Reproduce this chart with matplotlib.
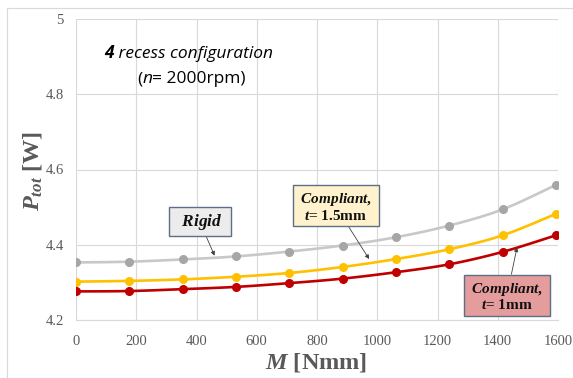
import matplotlib
matplotlib.use('Agg')
import matplotlib.pyplot as plt
from matplotlib.patches import Rectangle
from matplotlib.ticker import FuncFormatter, MultipleLocator

plt.rcParams['font.family'] = 'Liberation Serif'
plt.rcParams['mathtext.fontset'] = 'custom'
plt.rcParams['mathtext.it'] = 'Liberation Serif:italic:bold'
plt.rcParams['mathtext.rm'] = 'Liberation Serif:bold'
plt.rcParams['mathtext.bf'] = 'Liberation Serif:bold'

# momento applicato [Nmm]
M = [0, 177, 354, 531, 708, 885, 1062, 1239, 1416, 1593]

# potenza totale dissipata [W]
P_rigid = [4.353, 4.355, 4.361, 4.369, 4.382, 4.398, 4.420, 4.451, 4.494, 4.559]
P_t15 = [4.302, 4.304, 4.308, 4.315, 4.325, 4.341, 4.362, 4.388, 4.425, 4.482]
P_t1 = [4.276, 4.277, 4.282, 4.288, 4.298, 4.310, 4.327, 4.348, 4.381, 4.425]

W, H = 573, 378
GRIGIO_TESTO = '#595959'
BORDO_BOX = '#5b6f88'


def catmull_rom(x, y, n=12):
    # curva levigata come nei grafici di Excel
    xs, ys = [], []
    pts = list(zip(x, y))
    pts = [pts[0]] + pts + [pts[-1]]
    for i in range(1, len(pts) - 2):
        p0, p1, p2, p3 = pts[i - 1], pts[i], pts[i + 1], pts[i + 2]
        for k in range(n):
            t = k / n
            t2, t3 = t * t, t * t * t
            for c, out in ((0, xs), (1, ys)):
                out.append(0.5 * (2 * p1[c] + (-p0[c] + p2[c]) * t
                                  + (2 * p0[c] - 5 * p1[c] + 4 * p2[c] - p3[c]) * t2
                                  + (-p0[c] + 3 * p1[c] - 3 * p2[c] + p3[c]) * t3))
    xs.append(x[-1])
    ys.append(y[-1])
    return xs, ys


fig = plt.figure(figsize=(W / 100, H / 100), dpi=100)
fig.patches.append(Rectangle((7 / W, -5 / H), 575 / W, 375 / H,
                             transform=fig.transFigure, fill=False,
                             edgecolor='#d9d9d9', linewidth=0.8))

ax = fig.add_axes([76 / W, 58 / H, 482 / W, 301 / H])

serie = [
    (P_rigid, '#c8c8c8', '#a6a6a6'),
    (P_t15, '#ffc000', '#ffc000'),
    (P_t1, '#c00000', '#c00000'),
]
for vals, c_line, c_mark in serie:
    xs, ys = catmull_rom(M, vals)
    ax.plot(xs, ys, color=c_line, linewidth=1.9, zorder=3)
    ax.plot(M, vals, linestyle='none', marker='o', markersize=5.5,
            color=c_mark, zorder=4)

ax.set_xlim(0, 1600)
ax.set_ylim(4.2, 5.0)
ax.xaxis.set_major_locator(MultipleLocator(200))
ax.yaxis.set_major_locator(MultipleLocator(0.2))
ax.yaxis.set_major_formatter(FuncFormatter(lambda v, p: f'{v:g}'))
ax.grid(True, color='#d9d9d9', linewidth=0.8)
ax.set_axisbelow(True)
for s in ('top', 'right', 'left'):
    ax.spines[s].set_visible(False)
ax.spines['bottom'].set_color('#d9d9d9')
ax.tick_params(length=0, labelsize=10.5, labelcolor=GRIGIO_TESTO)
ax.tick_params(axis='x', pad=11)
ax.tick_params(axis='y', pad=9)

fig.text(316 / W, 1 - 362 / H, r'$M$ [Nmm]', ha='center', va='center',
         fontsize=17.5, fontweight='bold', color=GRIGIO_TESTO)
fig.text(32 / W, 1 - 171 / H, r'$P_{tot}$ [W]', rotation=90, ha='center',
         va='center', fontsize=17.5, fontweight='bold', color=GRIGIO_TESTO)

# titolo interno, composto a pezzi per i diversi stili
tit = dict(fontsize=12.5, family='Open Sans', va='bottom', color='black')
t1 = fig.text(104 / W, 1 - 62 / H, '4', fontweight='bold', style='italic', **tit)
ax.annotate(' recess configuration', xy=(1, 0), xycoords=t1, style='italic', **tit)
t2 = fig.text(137 / W, 1 - 87 / H, '(', **tit)
t3 = ax.annotate('n', xy=(1, 0), xycoords=t2, style='italic', **tit)
ax.annotate('= 2000rpm)', xy=(1, 0), xycoords=t3, **tit)

box = dict(boxstyle='square,pad=0.25', linewidth=1.0, edgecolor=BORDO_BOX)
freccia = dict(arrowstyle='-|>', color='#404040', linewidth=0.6, mutation_scale=6,
               shrinkA=0, shrinkB=0)
txt = dict(fontsize=11, fontweight='bold', ha='center', va='center',
           linespacing=1.05, color='#111111')

ax.annotate(r'  $Rigid$  ', xy=(460, 4.371), xytext=(411, 4.461),
            bbox=dict(box, facecolor='#ececec'), arrowprops=freccia,
            **dict(txt, fontsize=12.5))
ax.annotate(' $Compliant,$ \n$t$= 1.5mm', xy=(973, 4.362), xytext=(863, 4.501),
            bbox=dict(box, facecolor='#fff2cc'), arrowprops=freccia, **txt)
ax.annotate(' $Compliant,$ \n$t$= 1mm', xy=(1464, 4.393), xytext=(1430, 4.263),
            bbox=dict(box, facecolor='#e59c9c'), arrowprops=freccia, **txt)

fig.savefig('out.png', dpi=100)
